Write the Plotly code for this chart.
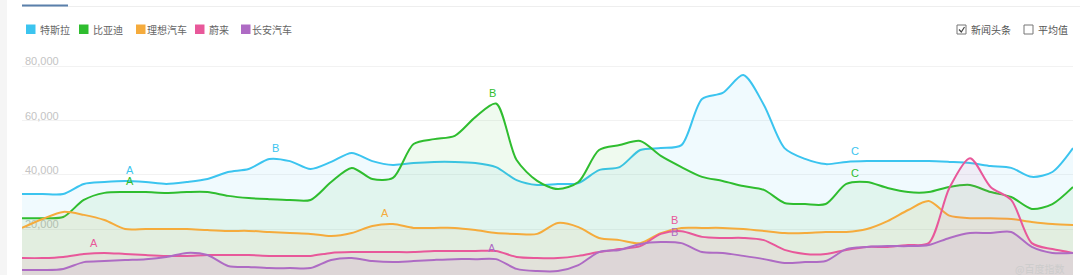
import plotly.graph_objects as go
import pandas as pd

# ---------------- data ----------------
dates = pd.date_range("2021-01-04", periods=52, freq="7D")

tesla = [32900, 32900, 32900, 36600, 37300, 37700, 37300, 36600, 37300, 38400,
         41000, 42100, 45800, 45000, 42100, 44700, 48000, 45000, 43600, 44300,
         44700, 44700, 44300, 42800, 38000, 36200, 36600, 36900, 41700, 42800,
         49100, 49800, 50900, 67900, 70100, 76700, 65700, 49800, 45800, 43900,
         44700, 45000, 45000, 45000, 45000, 44700, 44300, 43200, 42500, 39200,
         41000, 49800]
byd = [24000, 24000, 24400, 30700, 33300, 33600, 33600, 33300, 33600, 33600,
       32200, 31400, 31000, 30700, 30700, 37300, 42500, 38400, 38800, 51300,
       53100, 54300, 61200, 66200, 45400, 37700, 34700, 37300, 49100, 50900,
       52400, 46900, 42800, 39200, 37700, 35800, 34400, 29600, 29200, 29200,
       36600, 37300, 35100, 33600, 33600, 35500, 36200, 33600, 31800, 27400,
       29200, 35500]
lixiang = [20400, 23700, 26300, 25200, 23300, 20000, 20000, 20000, 20000, 19600,
           19300, 19300, 18900, 18500, 18200, 17400, 18500, 21100, 21800, 20400,
           20400, 20400, 19600, 18500, 18200, 18200, 22200, 20700, 16700, 15900,
           14800, 18500, 20400, 20400, 20400, 20000, 19300, 18500, 18500, 18900,
           18900, 20000, 22900, 27000, 30300, 24900, 24000, 24000, 23700, 22600,
           21800, 21500]
nio = [9300, 9300, 9700, 10800, 11200, 10800, 10400, 10100, 10100, 10400,
       10400, 10400, 10100, 10100, 10100, 11200, 11500, 11500, 11500, 11500,
       11900, 11900, 11900, 11900, 9700, 9300, 9300, 10100, 11500, 12600,
       13700, 18200, 19200, 17100, 16700, 16700, 15900, 12300, 10800, 10800,
       12300, 13400, 13400, 14100, 14800, 35100, 46100, 35500, 30700, 14800,
       12600, 11200]
changan = [4900, 4900, 5300, 7800, 8200, 8600, 8900, 9700, 11200, 10400,
           6400, 6000, 5600, 5600, 5600, 8600, 9300, 8200, 7800, 8200,
           8600, 8900, 8900, 8900, 5300, 4500, 4500, 6700, 11500, 12300,
           14500, 15200, 14800, 11500, 11200, 10100, 8900, 7500, 7800, 8200,
           12600, 13400, 13700, 13700, 14100, 16700, 18500, 18500, 18900, 13400,
           11200, 11200]

series_names = ["特斯拉", "比亚迪", "理想汽车", "蔚来", "长安汽车"]
series_values = [tesla, byd, lixiang, nio, changan]
colors = ["#3bc4ef", "#2fbd2f", "#f5ab3c", "#e8589a", "#ae6bc4"]
fill_colors = ["rgba(59,196,239,0.08)", "rgba(47,189,47,0.08)",
               "rgba(245,171,60,0.08)", "rgba(232,88,154,0.08)",
               "rgba(174,107,196,0.10)"]

# news markers: (series index, point index, letter, horizontal nudge px)
news_series = [0, 0, 0, 1, 1, 1, 2, 3, 3, 4, 4]
news_point = [5, 12, 40, 5, 23, 40, 18, 3, 32, 23, 32]
news_letter = ["A", "B", "C", "A", "B", "C", "A", "A", "B", "A", "B"]
news_nudge = [5, 6, 9, 5, -3, 9, -8, 10, -7, -4, -7]

y_ticks = [20000, 40000, 60000, 80000]

# ---------------- layout geometry ----------------
W, H = 1080, 275
L, R, T, B = 22, 7, 45, 0
PW, PH = W - L - R, H - T - B


def px(x):
    return (x - L) / PW


def py(y):
    return (H - B - y) / PH


FONT = "Liberation Sans, Arial, Noto Sans CJK SC, sans-serif"
CJK = "Noto Sans CJK SC, sans-serif"

fig = go.Figure()
for name, vals, col, fc in zip(series_names, series_values, colors, fill_colors):
    fig.add_trace(go.Scatter(
        x=dates, y=vals, name=name, mode="lines",
        line=dict(color=col, width=2, shape="spline", smoothing=0.8),
        fill="tozeroy", fillcolor=fc, showlegend=False,
        hoverinfo="x+y+name",
    ))

annotations = []
for si, pi, letter, dx in zip(news_series, news_point, news_letter, news_nudge):
    annotations.append(dict(
        x=dates[pi], y=series_values[si][pi], xref="x", yref="y",
        text=letter, showarrow=False, xshift=dx, yshift=11,
        font=dict(color=colors[si], size=11, family=FONT),
    ))

shapes = []
# left page strip
shapes.append(dict(type="rect", xref="paper", yref="paper",
                   x0=px(0), x1=px(7), y0=py(275), y1=py(0),
                   fillcolor="#f5f5f5", line=dict(width=0), layer="below"))
# tab bar line and active tab underline
shapes.append(dict(type="line", xref="paper", yref="paper",
                   x0=px(22), x1=px(1080), y0=py(6.5), y1=py(6.5),
                   line=dict(color="#eeeeee", width=1)))
shapes.append(dict(type="line", xref="paper", yref="paper",
                   x0=px(22), x1=px(68), y0=py(5.5), y1=py(5.5),
                   line=dict(color="#5a80ab", width=2)))

# legend (squares + labels)
legend_sq_x = [26, 79, 136, 195, 241]
legend_tx_x = [40, 93, 147, 209, 252]
for name, col, sx, tx in zip(series_names, colors, legend_sq_x, legend_tx_x):
    shapes.append(dict(type="rect", xref="paper", yref="paper",
                       x0=px(sx), x1=px(sx + 9.5), y0=py(34), y1=py(24.5),
                       fillcolor=col, line=dict(width=0)))
    annotations.append(dict(x=px(tx - 2), y=py(29.5), xref="paper", yref="paper",
                            text=name, showarrow=False, xanchor="left",
                            yanchor="middle",
                            font=dict(color="#666666", size=10, family=CJK)))

# checkboxes top right
cb_x = [957, 1024]
cb_text = ["新闻头条", "平均值"]
for cx, ct in zip(cb_x, cb_text):
    shapes.append(dict(type="rect", xref="paper", yref="paper",
                       x0=px(cx), x1=px(cx + 9), y0=py(34), y1=py(25),
                       fillcolor="white", line=dict(color="#777777", width=1)))
    annotations.append(dict(x=px(cx + 12), y=py(29.5), xref="paper", yref="paper",
                            text=ct, showarrow=False, xanchor="left",
                            yanchor="middle",
                            font=dict(color="#555555", size=10, family=CJK)))
shapes.append(dict(type="path", xref="paper", yref="paper",
                   path=f"M {px(959)},{py(29.5)} L {px(961.3)},{py(32)} L {px(964.5)},{py(27)}",
                   line=dict(color="#444444", width=1.2)))

# watermark
annotations.append(dict(x=px(1066), y=py(268), xref="paper", yref="paper",
                        text="@百度指数", showarrow=False, xanchor="right",
                        yanchor="middle",
                        font=dict(color="#cccccc", size=10, family=CJK)))

y_lo = (283.3 - 275) * 368.3
y_hi = (283.3 - T) * 368.3

fig.update_layout(
    width=W, height=H,
    margin=dict(l=L, r=R, t=T, b=B, pad=0),
    paper_bgcolor="white", plot_bgcolor="white",
    showlegend=False,
    xaxis=dict(visible=False, range=[dates[0], dates[-1]], fixedrange=True),
    yaxis=dict(range=[y_lo, y_hi], tickvals=y_ticks, tickformat=",",
               ticklabelposition="inside top", ticklabelshift=3, ticks="",
               showgrid=True, gridcolor="#f2f2f2", gridwidth=1,
               zeroline=False, showline=False, layer="below traces",
               tickfont=dict(color="#c4c4c4", size=11, family=FONT),
               fixedrange=True),
    annotations=annotations,
    shapes=shapes,
    hovermode="x",
)

fig.write_html("out.html")
